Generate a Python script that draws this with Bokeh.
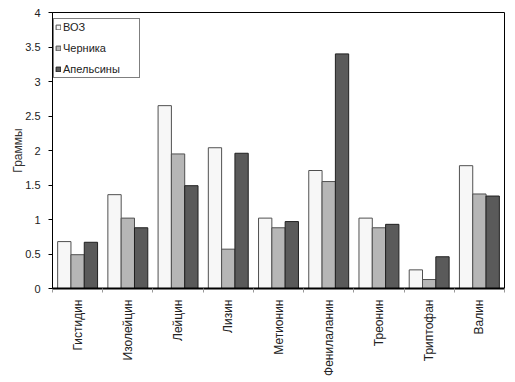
import math
from bokeh.plotting import figure
from bokeh.models import (ColumnDataSource, Range1d, FixedTicker, Legend, LegendItem)
from bokeh.transform import dodge
from bokeh.embed import file_html
from bokeh.resources import INLINE

categories = ["Гистидин", "Изолейцин", "Лейцин", "Лизин", "Метионин",
              "Фенилаланин", "Треонин", "Триптофан", "Валин"]
series_names = ["ВОЗ", "Черника", "Апельсины"]
who = [0.68, 1.36, 2.65, 2.04, 1.02, 1.71, 1.02, 0.27, 1.78]
blueberry = [0.49, 1.02, 1.95, 0.57, 0.88, 1.55, 0.88, 0.13, 1.37]
orange = [0.67, 0.88, 1.49, 1.96, 0.97, 3.40, 0.93, 0.46, 1.34]
y_ticks = [0, 0.5, 1, 1.5, 2, 2.5, 3, 3.5, 4]
y_tick_labels = ["0", "0.5", "1", "1.5", "2", "2.5", "3", "3.5", "4"]
y_label = "Граммы"

FONT = "Liberation Sans"
fills = ["#f7f7f7", "#b6b6b6", "#5a5a5a"]
edges = ["#505050", "#505050", "#202020"]

n = len(categories)
centers = [i + 0.5 for i in range(n)]
bounds = list(range(n + 1))
src = ColumnDataSource(dict(pos=centers, who=who, bil=blueberry, org=orange))

p = figure(frame_width=452, frame_height=276, x_range=Range1d(0, n),
           y_range=Range1d(0, 4), output_backend="svg", toolbar_location=None,
           min_border_left=52, min_border_right=10,
           min_border_top=12, min_border_bottom=93)
p.xgrid.visible = False
p.ygrid.visible = False
p.outline_line_color = "black"
p.outline_line_width = 1
p.background_fill_color = "white"
p.border_fill_color = "white"

bw = 0.265
renderers = []
for i, (col, name) in enumerate(zip(["who", "bil", "org"], series_names)):
    r = p.vbar(x=dodge("pos", (i - 1) * bw), top=col, width=bw,
               source=src, fill_color=fills[i], line_color=edges[i], line_width=1)
    renderers.append((name, r))

# y axis
ya = p.yaxis[0]
ya.ticker = FixedTicker(ticks=y_ticks)
ya.major_label_overrides = {t: l for t, l in zip(y_ticks, y_tick_labels)}
ya.minor_tick_line_color = None
ya.major_tick_in = 0
ya.major_tick_out = 4
ya.axis_line_color = "black"
ya.major_tick_line_color = "black"
ya.major_label_text_font = FONT
ya.major_label_text_font_size = "11px"
ya.major_label_text_color = "#222222"
ya.major_label_standoff = 8
ya.axis_label = y_label
ya.axis_label_text_font = FONT
ya.axis_label_text_font_size = "12px"
ya.axis_label_text_font_style = "normal"
ya.axis_label_text_color = "#333333"
ya.axis_label_standoff = -3

# x axis: labels at centers, ticks at boundaries
xa = p.xaxis[0]
xa.ticker = FixedTicker(ticks=centers, minor_ticks=bounds)
xa.major_label_overrides = {c: nm for c, nm in zip(centers, categories)}
xa.major_tick_line_color = None
xa.major_tick_in = 0
xa.major_tick_out = 4
xa.minor_tick_in = 0
xa.minor_tick_out = 4
xa.minor_tick_line_color = "#999999"
xa.axis_line_color = "black"
xa.axis_line_width = 2
xa.major_label_orientation = math.pi / 2
xa.major_label_text_font = FONT
xa.major_label_text_font_size = "12px"
xa.major_label_text_color = "#222222"
xa.major_label_standoff = 7

legend = Legend(items=[LegendItem(label=nm, renderers=[r]) for nm, r in renderers],
                location=(1, 210))
legend.margin = 0
legend.padding = 1
legend.spacing = 7
legend.glyph_width = 6
legend.glyph_height = 6
legend.label_height = 14
legend.label_width = 75
legend.label_standoff = 2
legend.label_text_font = FONT
legend.label_text_font_size = "11px"
legend.label_text_color = "#222222"
legend.border_line_color = "black"
legend.border_line_width = 1
legend.background_fill_color = "white"
legend.background_fill_alpha = 1
p.add_layout(legend)

open("out.html", "w").write(file_html(p, INLINE))
